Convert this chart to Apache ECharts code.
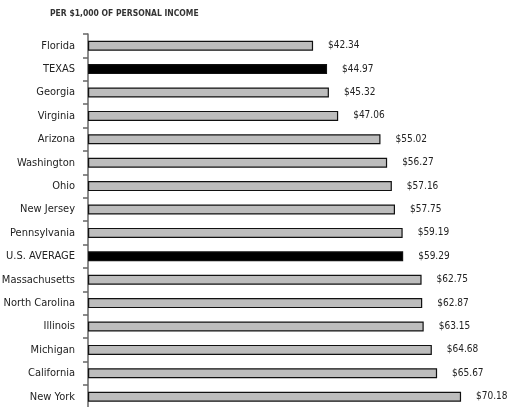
<!DOCTYPE html>
<html><head><meta charset="utf-8">
<script src="https://cdn.jsdelivr.net/npm/echarts@6/dist/echarts.min.js"></script>
<style>html,body{margin:0;padding:0;background:#fff}#c{width:510px;height:407px}</style>
</head><body><div id="c"></div>
<script>
const categories = ["Florida","TEXAS","Georgia","Virginia","Arizona","Washington","Ohio","New Jersey","Pennsylvania","U.S. AVERAGE","Massachusetts","North Carolina","Illinois","Michigan","California","New York"];
const values = [42.34,44.97,45.32,47.06,55.02,56.27,57.16,57.75,59.19,59.29,62.75,62.87,63.15,64.68,65.67,70.18];
const highlighted = ["TEXAS","U.S. AVERAGE"];
const title = "PER $1,000 OF PERSONAL INCOME";
const FONT = "'DejaVu Sans Condensed', sans-serif";
const chart = echarts.init(document.getElementById('c'));
chart.setOption({
  animation:false,
  title:{text:title,left:50,top:9,padding:0,textStyle:{fontFamily:FONT,fontSize:8.5,fontWeight:'bold',color:'#333'}},
  grid:{left:88,top:34,height:374.4,width:398.7,containLabel:false,outerBoundsMode:'none'},
  xAxis:{type:'value',min:0,max:75,show:false},
  yAxis:{type:'category',inverse:true,data:categories,
    axisLine:{lineStyle:{color:'#666',width:1.5}},
    axisTick:{show:true,length:5,lineStyle:{color:'#666',width:1.5}},
    axisLabel:{margin:13,fontFamily:FONT,fontSize:11,color:'#222'}},
  series:[{type:'bar',barWidth:10,
    data:values.map((v,i)=>({value:v,itemStyle:{color:highlighted.includes(categories[i])?'#000':'#bdbdbd'}})),
    itemStyle:{borderColor:'#111',borderWidth:1.2},
    label:{show:true,position:'right',distance:15,fontFamily:FONT,fontSize:10,color:'#222',
      formatter:p=>'$'+p.value.toFixed(2)}}]
});
</script></body></html>
